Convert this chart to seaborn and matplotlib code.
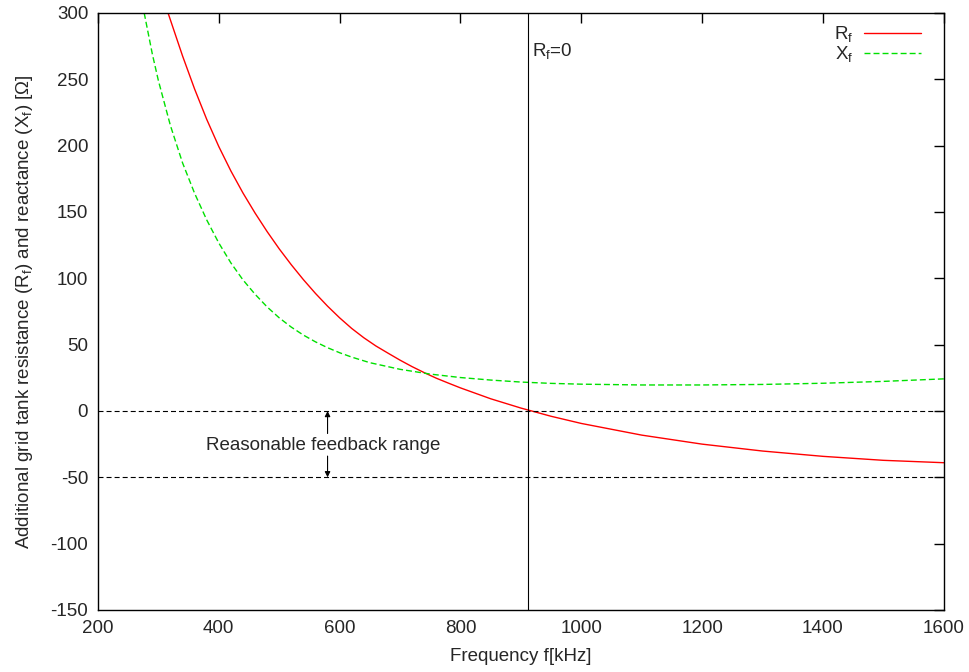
import numpy as np
import pandas as pd
import matplotlib
matplotlib.use('Agg')
import matplotlib.pyplot as plt
import seaborn as sns

# values
freq_r = [316, 340, 360, 380, 400, 420, 440, 460, 480, 500, 520, 540, 560, 580, 600,
          620, 640, 660, 680, 700, 720, 740, 760, 780, 800, 850, 900, 950, 1000,
          1100, 1200, 1300, 1400, 1500, 1600]
r_f = [300, 267.6, 242.6, 219.8, 199.3, 180.9, 164.3, 149.2, 135.2, 122.2, 110.2,
       99.0, 88.6, 79.0, 70.2, 62.2, 55.2, 49.0, 43.6, 38.3, 33.4, 28.9, 24.7,
       21.0, 17.4, 9.2, 2.2, -4.0, -9.4, -18.2, -25.0, -30.2, -34.2, -37.2, -39.0]

freq_x = [276.5, 290, 300, 320, 340, 360, 380, 400, 420, 440, 460, 480, 500, 520,
          540, 560, 580, 600, 620, 650, 700, 750, 800, 850, 900, 950, 1000, 1100,
          1200, 1300, 1400, 1500, 1600]
x_f = [300, 269.0, 249.0, 215.0, 187.0, 164.0, 144.0, 126.6, 111.6, 98.8, 88.0,
       78.4, 70.2, 63.2, 57.2, 52.1, 47.7, 43.9, 40.6, 36.4, 31.4, 27.8, 25.2,
       23.3, 21.8, 20.8, 20.2, 19.6, 19.6, 20.0, 20.9, 22.3, 24.2]

f_zero = 911           # frequency where R_f = 0
band = [0, -50]        # reasonable feedback range

sns.set_style("white")
plt.rcParams['font.family'] = ['Liberation Sans', 'DejaVu Sans']
plt.rcParams['mathtext.default'] = 'regular'
plt.rcParams['axes.unicode_minus'] = False
plt.rcParams['lines.scale_dashes'] = False

fig = plt.figure(figsize=(9.7, 6.72), dpi=100)
ax = fig.add_axes([0.101, 0.0923, 0.872, 0.8884])

df_r = pd.DataFrame({'f': freq_r, 'v': r_f})
df_x = pd.DataFrame({'f': freq_x, 'v': x_f})

sns.lineplot(data=df_r, x='f', y='v', ax=ax, color='#ff0000', lw=1.0,
             label='R$_f$', estimator=None, sort=True)
sns.lineplot(data=df_x, x='f', y='v', ax=ax, color='#00e000', lw=1.0,
             label='X$_f$', estimator=None, sort=True)
ax.lines[1].set_dashes([4.3, 2.2])

for yv in band:
    ax.axhline(yv, color='black', lw=0.8, dashes=[3.6, 2.2])
ax.axvline(f_zero, color='black', lw=0.8)

fs = 13.5
ax.text(f_zero + 7, 271, 'R$_f$=0', fontsize=fs, ha='left', va='center')
ax.text(572, -26, 'Reasonable feedback range', fontsize=fs, ha='center', va='center')
ax.annotate('', xy=(580, 0), xytext=(580, -17),
            arrowprops=dict(arrowstyle='-|>', color='black', lw=0.8,
                            mutation_scale=8, shrinkA=0, shrinkB=0))
ax.annotate('', xy=(580, -50), xytext=(580, -34),
            arrowprops=dict(arrowstyle='-|>', color='black', lw=0.8,
                            mutation_scale=8, shrinkA=0, shrinkB=0))

ax.set_xlim(200, 1600)
ax.set_ylim(-150, 300)
ax.set_xticks(np.arange(200, 1601, 200))
ax.set_yticks(np.arange(-150, 301, 50))
ax.tick_params(direction='in', length=7, width=1, top=True, right=True,
               labelsize=fs, pad=7, color='black')
for s in ax.spines.values():
    s.set_color('black')
    s.set_linewidth(1)

ax.set_xlabel('Frequency f[kHz]', fontsize=fs, labelpad=8)
ax.set_ylabel('Additional grid tank resistance (R$_f$) and reactance (X$_f$) [Ω]',
              fontsize=fs, labelpad=11)

ax.legend(loc='upper right', frameon=False, markerfirst=False, fontsize=fs,
          handlelength=3.0, handletextpad=0.6, labelspacing=0.0,
          borderaxespad=0.2, bbox_to_anchor=(0.986, 1.0))

fig.savefig('out.png', dpi=100)
